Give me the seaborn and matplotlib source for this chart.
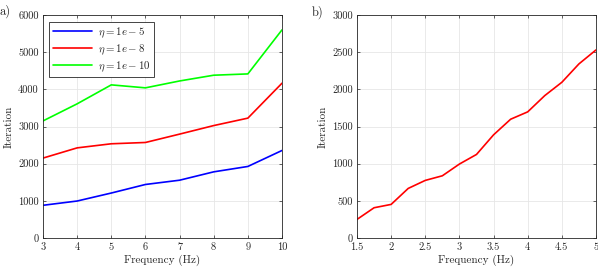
import numpy as np
import pandas as pd
import matplotlib
matplotlib.use('Agg')
import matplotlib.pyplot as plt
import seaborn as sns

# panel a) data
freq_a = [3, 4, 5, 6, 7, 8, 9, 10]
iter_1e5 = [880, 995, 1210, 1440, 1555, 1780, 1925, 2355]
iter_1e8 = [2150, 2425, 2535, 2570, 2795, 3025, 3225, 4165]
iter_1e10 = [3150, 3610, 4120, 4040, 4225, 4380, 4415, 5600]
labels_a = [r'$\eta = 1e-5$', r'$\eta = 1e-8$', r'$\eta = 1e-10$']

# panel b) data
freq_b = [1.5, 1.75, 2, 2.25, 2.5, 2.75, 3, 3.25, 3.5, 3.75, 4, 4.25, 4.5, 4.75, 5]
iter_b = [250, 407, 452, 667, 775, 837, 995, 1124, 1388, 1598, 1697, 1916, 2095, 2342, 2530]

sns.set_style('ticks')
plt.rcParams['font.family'] = ['cmr10', 'DejaVu Serif']
plt.rcParams['mathtext.fontset'] = 'cm'
plt.rcParams['axes.unicode_minus'] = False
plt.rcParams['font.size'] = 7

df_a = pd.DataFrame({
    'Frequency': freq_a * 3,
    'Iteration': iter_1e5 + iter_1e8 + iter_1e10,
    'eta': [labels_a[0]] * 8 + [labels_a[1]] * 8 + [labels_a[2]] * 8,
})
df_b = pd.DataFrame({'Frequency': freq_b, 'Iteration': iter_b})

fig = plt.figure(figsize=(5.98, 2.69), dpi=100)
ax1 = fig.add_axes([43 / 598, 31 / 269, 239 / 598, 223 / 269])
ax2 = fig.add_axes([357 / 598, 31 / 269, 239 / 598, 223 / 269])

sns.lineplot(data=df_a, x='Frequency', y='Iteration', hue='eta',
             palette=['#0000ff', '#ff0000', '#00ff00'], linewidth=1.2, ax=ax1)
sns.lineplot(data=df_b, x='Frequency', y='Iteration', color='#ff0000',
             linewidth=1.2, ax=ax2)

ax1.set_xlim(3, 10)
ax1.set_ylim(0, 6000)
ax1.set_xticks(range(3, 11))
ax1.set_yticks(range(0, 6001, 1000))
ax2.set_xlim(1.5, 5)
ax2.set_ylim(0, 3000)
ax2.set_xticks(np.arange(1.5, 5.01, 0.5))
ax2.set_xticklabels(['1.5', '2', '2.5', '3', '3.5', '4', '4.5', '5'])
ax2.set_yticks(range(0, 3001, 500))

for ax in (ax1, ax2):
    ax.grid(True, color='#e6e6e6', linewidth=0.6)
    ax.set_axisbelow(True)
    ax.tick_params(direction='in', length=2.5, width=0.5, top=True, right=True,
                   labelsize=7.5, colors='#262626', pad=3)
    for s in ax.spines.values():
        s.set_linewidth(0.6)
        s.set_color('#262626')
    ax.set_xlabel('Frequency (Hz)', fontsize=8, color='#262626', labelpad=2)
    ax.set_ylabel('Iteration', fontsize=8, color='#262626', labelpad=3)

leg = ax1.legend(loc='upper left', fontsize=7.8, frameon=True, fancybox=False,
                 edgecolor='#262626', framealpha=1, handlelength=3.6,
                 borderaxespad=0.6, labelspacing=0.25, handletextpad=0.5,
                 borderpad=0.35)
leg.get_frame().set_linewidth(0.6)

fig.text(0 / 598, 1 - 11 / 269, 'a)', fontsize=9, va='center', ha='left')
fig.text(312 / 598, 1 - 12 / 269, 'b)', fontsize=9, va='center', ha='left')

fig.savefig('out.png', dpi=100)
